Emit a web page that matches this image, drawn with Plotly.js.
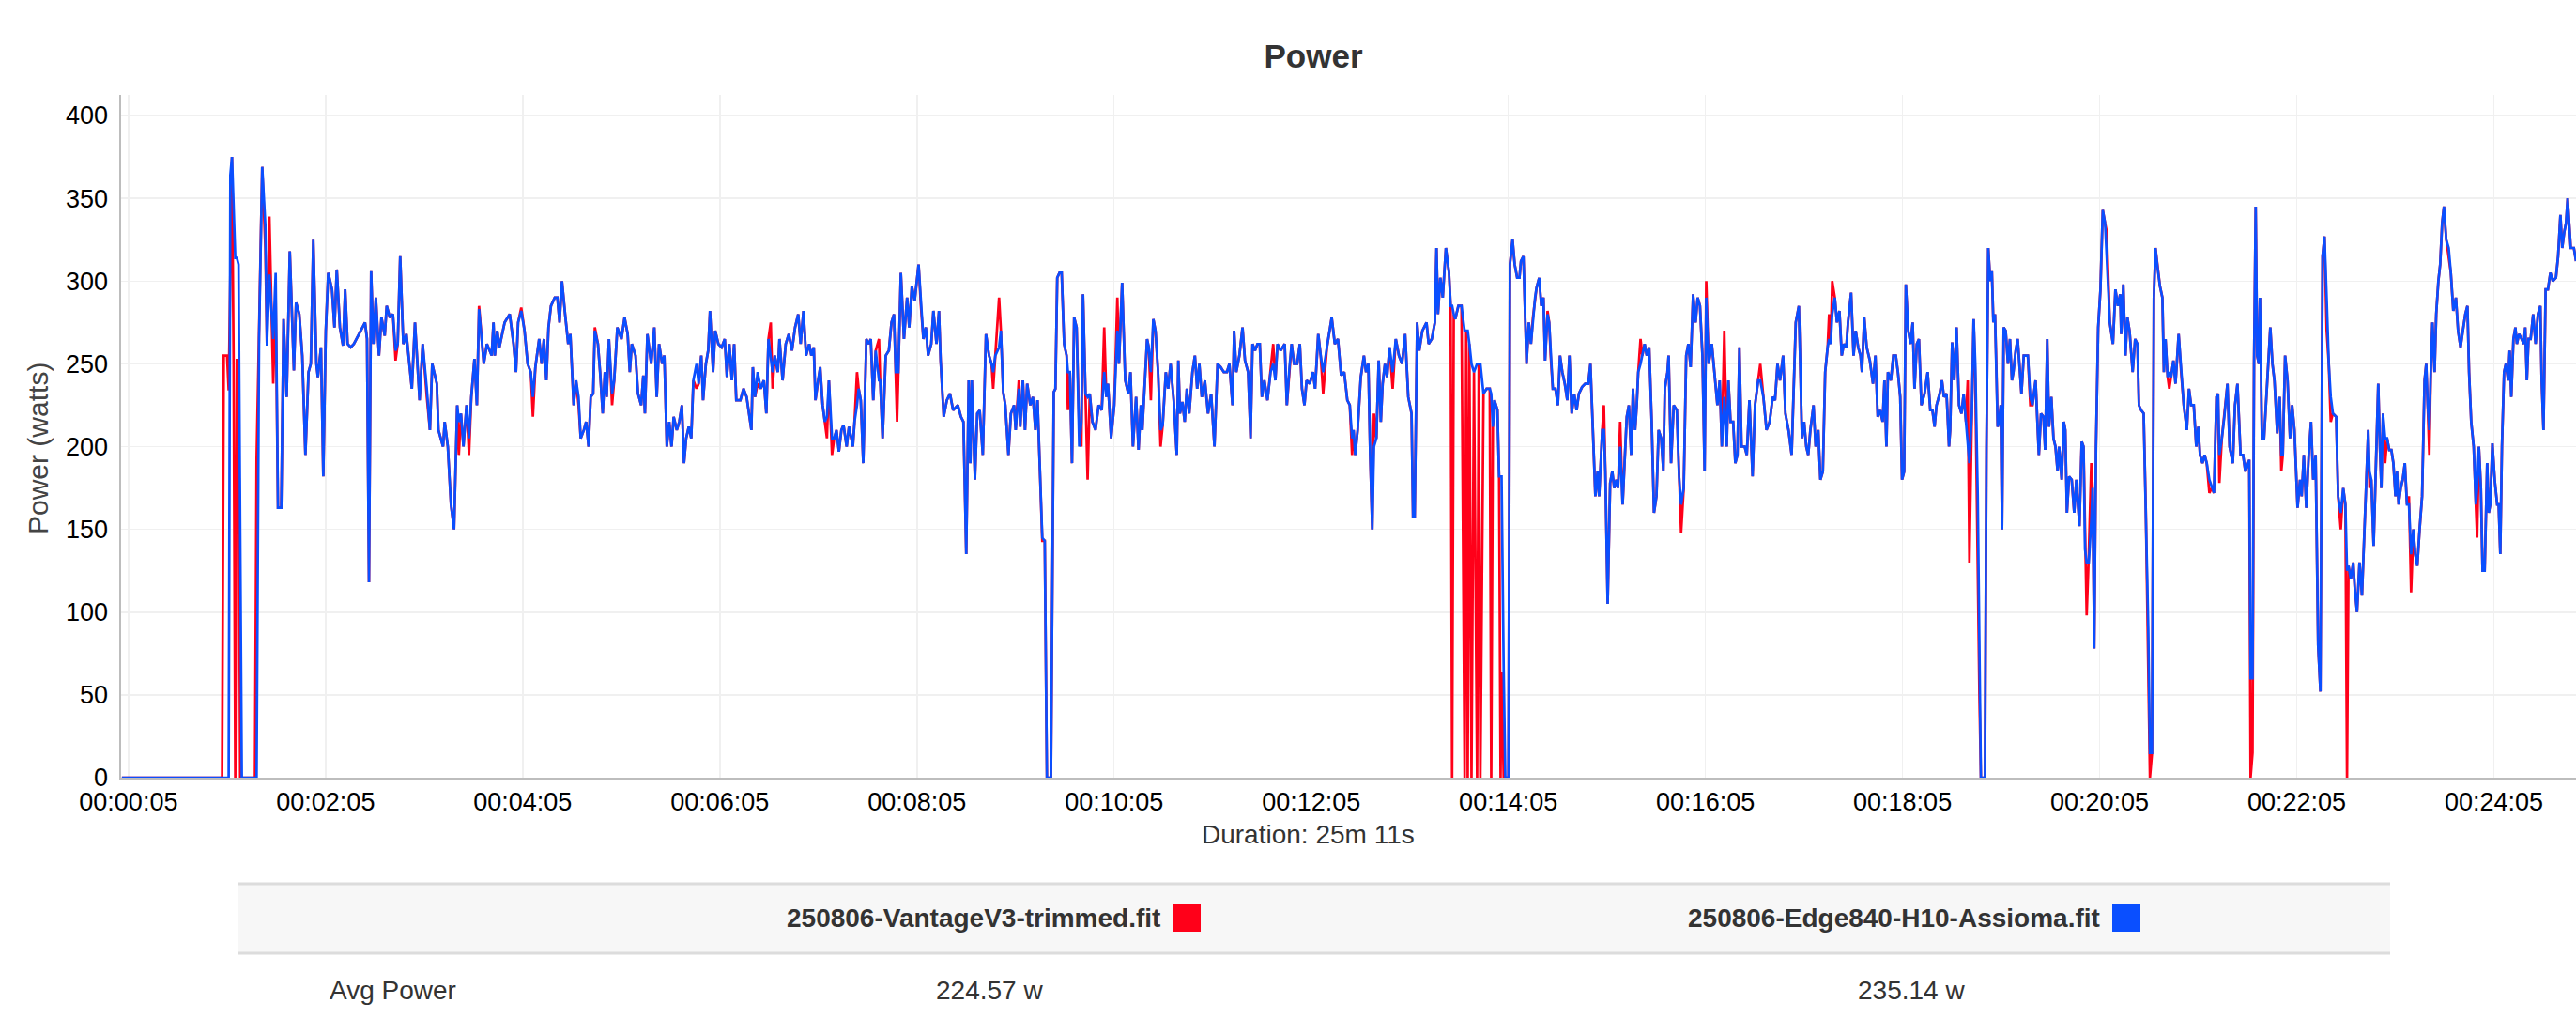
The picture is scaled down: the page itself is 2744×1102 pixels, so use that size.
<!DOCTYPE html>
<html>
<head>
<meta charset="utf-8">
<script src="https://cdn.plot.ly/plotly-3.0.1.min.js"></script>
<style>
  html, body { margin: 0; padding: 0; background: #ffffff; }
  #chart { width: 2744px; height: 1102px; }
</style>
</head>
<body>
<div id="chart"></div>
<script>
// ---------------- DATA ----------------
const chartTitle = "Power";
const yAxisTitle = "Power (watts)";
const xAxisTitle = "Duration: 25m 11s";
const seriesNames = ["250806-VantageV3-trimmed.fit", "250806-Edge840-H10-Assioma.fit"];
const avgPower = ["224.57 w", "235.14 w"];
const rowLabel = "Avg Power";

const tickSeconds = [5, 125, 245, 365, 485, 605, 725, 845, 965, 1085, 1205, 1325, 1445];
const tickLabels = ["00:00:05", "00:02:05", "00:04:05", "00:06:05", "00:08:05", "00:10:05", "00:12:05",
                    "00:14:05", "00:16:05", "00:18:05", "00:20:05", "00:22:05", "00:24:05"];
const yTicks = [0, 50, 100, 150, 200, 250, 300, 350, 400];

// elapsed seconds
const seconds = [
1,62,63,65,66,67,68,69,70,71,72,73,74,82,83,84.5,86.4,88.3,89.3,90.8,93.1,94.6,96,98,99.4,101.3,103.2,105.7,107,109,110.8,112.7,114.6,116,117.5,119.4,120.3,122.2,123.6,125.1,126.6,128.9,130.4,131.8,133.7,135.6,136.9,138.4,140.3,142.2,146.1,149,150.2,151.4,152.7,154.1,155.6,157.5,159,161,162.2,164.1,166,167.6,168.9,170.4,172.3,174.2,177.5,179.4,182.2,184.1,186.6,188.5,
189.9,192.7,193.7,195.2,196.5,197.5,199.4,201.3,203.2,205.1,206.1,207.4,208.9,210.8,212.3,213.7,215.6,217.1,218.4,221.3,223.2,226.1,227.2,228,229.5,230.8,234,237.1,239.4,240.9,242.2,244.1,246.1,248,249.9,251.2,252.7,255,256.5,257.9,259.4,260.7,262.2,264.5,266.1,267.4,268.9,270.8,272.7,274,276,277.5,279,280.3,282.2,283.6,285.1,286.4,287.9,288.9,290.8,292.1,293.7,295,296.1,297.5,299.4,300.7,302.6,305.1,307,308.9,310.2,311.4,313.7,315.2,317.1,318.4,319.4,320.9,323.2,325.1,326.6,328,329.9,331.2,332.7,334.2,335.6,336.9,338.8,340.3,341.9,343.2,344.5,346.1,347.6,348.9,350.8,352.1,353.7,354.8,356.5,357.9,359,360.9,362.2,364.1,366.1,368,369.3,370.8,372.3,373.7,375,377.5,379.4,381.3,382.6,384.2,385.1,386.4,388,389.9,391.8,393.3,394.6,
396,397.1,398.4,400.3,401.3,403.2,405.1,407,408.9,410.8,412.7,414.2,415.9,417.5,419.4,420.7,422.2,423.2,424.5,426.1,427.6,428.9,430.2,431.4,433.3,434.6,436,437.5,439,440.3,442.2,443.6,445.1,446,447,448.5,449.5,450.8,452.3,454.2,455.6,456.9,458.4,459.9,461.9,462.6,464.1,466,467.9,469.5,471,472.1,472.9,473.7,475.2,477.1,479,480.3,481.9,483.6,486,487.4,488.9,490.4,491.8,493.7,495,496.9,498.4,499.4,501.3,503.2,505.1,507,509.9,511.8,513.3,515,516.5,517.5,518.4,520.3,521.7,523.2,525.1,527,528.9,530.4,531.4,532.7,535,536.1,537.5,538.8,540.7,542.2,544.1,545.1,547,547.9,549.5,550.8,552.1,554,555.6,557.1,558.4,561.3,562.8,564.1,566.6,568.3,569.3,570.4,571.8,573.1,574.6,576.1,576.9,578.1,579.4,580.7,582.2,583.8,585.1,586.1,587.6,588.9,
590.2,591.8,593.7,595.6,597.5,599,600.3,601.3,603.2,605.1,607,608,609.9,611.8,613.7,615,616.5,618.4,619.9,621.3,622.2,623.8,625.1,626.1,627.4,628.9,630.2,631.8,633.3,634.6,636.5,637.9,639.4,641.3,643.2,644.1,645.1,646.6,648,649.3,650.8,652.7,654.2,655.6,656.9,658.4,660.3,662.2,664.1,666.1,668,669.9,671.8,673.7,675.2,677.1,678.1,679.4,681.3,683.2,684.7,686.6,688.1,689.3,690.8,692.3,693.7,695,696.5,698.4,700.3,701.9,703.2,704.5,706.4,708.9,710.2,711.8,713.1,714.6,716.5,718.1,719.4,720.9,722.2,724.1,726.1,727.4,729.3,730.8,732.3,734.6,737.5,739.4,741.3,743.2,745.1,747,748.5,749.9,750.8,751.8,753.3,755.2,757.1,758.4,759.8,760.9,762.2,763.2,764.7,766.1,767.4,768.5,769.9,771.2,772.7,774.6,776.5,778.4,780.3,782.2,
784.1,786.1,787,788,789.5,790.8,792.7,795.2,796.5,798.4,800.3,801.3,802.2,803.6,805.1,807,808.9,809.9,810.8,811.8,812.7,814.6,816.5,818.4,819.4,820.3,821.3,822.6,824.1,826,827,828,829.9,831.8,833.7,834.6,835.6,836.6,838.4,839.4,840.3,840.9,842.2,843.2,845.1,846,847.6,848.9,850.4,851.8,852.7,854.2,856.1,857.5,858.8,860,861.3,862.2,863.8,865.1,866.4,867.4,868.9,869.9,870.8,872.1,873.7,875.2,876.5,877.9,879.4,880.9,882.2,883.6,885.1,886.6,888,889.9,891.8,893.7,895,896.5,898,899.4,900.3,902.2,903.2,904.1,905.5,907,908.3,909.5,910.8,911.8,913.1,914.6,916,917.1,918.4,919.8,920.9,922.2,923.2,924.1,925.5,926.6,928,929.3,930.8,932.3,933.7,935.2,936.5,938.1,939.4,940.3,941.9,942.6,944.1,945.7,947.6,948.9,950.2,951.8,953.3,954.6,956,957.5,959,960.3,961.7,963.2,964.5,965.5,967,968.9,970.8,972.3,973.7,975,976.5,978,
979,980.3,981.9,983.2,984.5,985.7,987,988.9,990.2,991.8,993.7,995.2,997.1,998.4,1000.3,1002.2,1004.1,1006,1007.4,1008.9,1010.4,1012.3,1013.7,1015.6,1017.5,1018.4,1020,1021.9,1023.8,1025.1,1026.4,1027.6,1028.9,1030.8,1032.1,1033.7,1035,1036.5,1037.9,1039.4,1040.3,1041.3,1042.2,1043.8,1045.1,1046.6,1048,1049.3,1050.8,1051.8,1053.7,1055.2,1056.5,1058,1059.4,1060.3,1061.7,1063.2,1065.1,1067,1068.5,1069.9,1071.4,1072.9,1074,1075.2,1076.1,1077.9,1079.4,1080.9,1082.2,1083.6,1084.7,1086,1087,1088.5,1089.9,1091.2,1092.3,1093.7,1095,1096.5,1098.4,1100.3,1101.9,1103.2,1104.5,1105.7,1107.6,1109,1110.2,1111.8,1113.3,1114,1115.2,1116.5,1117.9,1119.4,1120.9,1122.2,1123.6,1124.7,1125.7,1127.2,1128.3,1129.3,1130.8,1131.8,1132.7,1135.2,1136.1,1137.2,1138.4,1139.4,1140.3,1141.3,1142.2,1142.9,1143.8,1144.8,1145.6,1146.6,1147.8,1149.2,1150.4,1151.6,1152.5,1153.9,1155.1,1156.2,1157.4,1158.8,1160,
1161.3,1162.8,1164.1,1166,1168,1169.3,1170.8,1171.8,1173.1,1174.2,1175.6,1176.9,1178.1,1179.4,1180.3,1181.9,1183.2,1184.1,1185.1,1186.4,1188,1189.5,1190.8,1192.7,1194.1,1195.2,1196.1,1197.1,1198.4,1199.9,1200.7,1201.7,1202.8,1204.1,1205.5,1206.9,1208.3,1209.3,1211.2,1213.1,1214.6,1216.1,1217.5,1218.1,1219.4,1220.7,1221.9,1223.2,1225.1,1226.6,1228,1228.9,1230.3,1231.8,1233.1,1234.6,1235.6,1236.9,1238,1239,1240.3,1241.7,1243.2,1244.1,1245.1,1246.4,1247.4,1248.5,1249.9,1251.2,1253.1,1254.6,1256.2,1258.1,1259.4,1260.7,1262.3,1263.8,1265.1,1266.1,1267.6,1268.9,1270.2,1271.8,1273.3,1274.6,1276.1,1277.1,1277.9,1279.4,1280.9,1282.8,1284.1,1286.1,1287.4,1288.9,1290.8,1292.3,1293.7,1294.6,1296.1,1296.9,1298.1,1299,1300,1300.9,1301.9,1302.6,1303.8,1305.1,1306.4,1307.6,1308.9,1310.2,1311.4,1313.1,1314.6,1315.6,1316.5,1317.9,1319.4,1320.9,1322.2,1323.6,1325.5,1327,1328,1329.3,1330.8,1332.3,1333.7,1335,1336.5,1338,1339.4,1340.7,1341.9,1343.2,1344.5,1345.7,1347,1349,1350.2,1351.8,1353.3,1354.6,1355.6,1356.5,1357.9,1359.4,1360.3,1361.7,1363.2,1364.7,1366.1,
1368.5,1369.3,1370.4,1371.8,1373.3,1374.6,1375.6,1376.5,1377.5,1378.8,1380,1381.3,1382.6,1383.8,1385.1,1386,1387,1388.3,1389.5,1390.8,1392.1,1393.3,1394.6,1396,1397.1,1398.4,1399.8,1401.3,1402.8,1403.8,1404.7,1405.7,1406.6,1407.6,1408.9,1409.9,1411.2,1412.3,1413.5,1414.6,1416,1417.5,1418.8,1420.3,1421.9,1423.2,1424.7,1426.1,1427.6,1428.9,1429.9,1431.2,1432.7,1434,1434.8,1435.9,1437.1,1438.1,1439.4,1440.9,1441.9,1442.8,1444.1,1445.5,1447,1447.9,1448.9,1449.9,1451.2,1452.3,1453.7,1454.6,1455.6,1456.9,1458.1,1459,1460.3,1461.9,1463.2,1464.1,1465.1,1466.1,1467.4,1468.9,1470.4,1471.8,1473.3,1474.1,1475.2,1476.5,1477.9,1479.4,1480.9,1482.8,1484.1,1485.5,1486.6,1487.9,1488.9,1489.9,1491.8,1493.7,1495
];

// 250806-VantageV3-trimmed.fit (red)
const vantage = [
0,0,255,255,234,300,375,250,0,253,231,0,0,0,193,270,369,320,261,339,238,290,163,163,277,230,318,246,287,280,255,195,245,250,325,250,242,260,182,270,305,295,272,307,272,261,295,262,260,262,270,275,265,118,306,262,290,255,278,267,285,278,280,252,262,315,262,268,235,275,228,262,230,210,
250,238,210,205,200,215,200,165,150,225,195,220,200,225,195,230,253,225,285,250,262,255,275,255,270,260,275,280,262,245,275,284,270,250,245,218,248,265,250,265,240,272,285,290,290,275,300,280,262,268,225,240,225,205,210,215,200,230,232,272,262,245,220,245,230,265,225,240,272,265,278,268,245,262,255,232,225,243,220,268,250,272,230,262,250,255,200,215,200,218,210,215,225,190,205,212,205,240,235,238,255,228,250,258,282,245,270,262,260,265,242,262,240,262,228,228,235,230,222,210,248,230,238,235,240,220,265,
275,235,255,245,265,240,262,268,258,272,280,262,282,255,262,255,260,228,238,248,225,215,205,240,195,205,210,197,210,213,200,212,205,200,215,245,235,228,190,265,262,265,228,258,265,240,205,255,258,275,280,245,215,245,305,265,290,272,297,288,310,285,265,272,255,262,282,262,282,252,218,228,232,222,225,218,215,135,240,190,240,180,220,222,195,268,255,250,235,255,290,270,233,225,195,220,225,210,240,212,240,210,238,225,230,210,228,143,143,0,0,233,235,302,305,305,262,255,222,245,190,278,272,210,200,292,230,180,
232,215,210,225,222,272,230,238,205,225,290,250,299,240,232,245,200,230,198,225,210,240,265,260,228,277,270,245,200,213,245,235,250,228,195,252,220,227,215,235,220,245,255,235,250,230,240,220,232,200,250,248,245,245,250,225,270,245,255,272,252,245,205,262,258,262,262,230,240,228,245,262,240,262,258,262,225,248,262,250,250,262,235,225,240,238,245,235,268,255,232,260,278,262,265,243,245,228,225,195,210,195,210,242,255,245,250,195,150,220,205,252,215,238,250,242,260,235,265,255,250,268,
230,220,158,158,275,258,270,275,262,265,275,320,280,302,290,320,305,285,0,280,277,285,285,0,270,0,262,0,245,0,250,0,232,235,235,0,212,228,222,182,0,64,0,0,0,310,325,310,302,302,312,315,250,275,262,278,290,296,302,285,290,252,282,275,255,235,235,225,255,245,238,228,255,220,232,222,232,236,238,238,250,210,170,185,170,210,225,185,105,178,185,175,180,175,215,165,200,218,225,195,235,210,225,245,265,255,262,255,260,215,160,170,210,205,185,235,245,255,190,225,222,183,148,175,255,262,248,292,275,290,285,255,185,300,250,262,240,225,240,200,270,200,
240,215,215,190,195,260,200,200,195,228,182,225,240,250,230,210,215,230,228,250,240,255,220,210,195,225,275,285,205,215,200,195,210,225,200,210,180,185,245,260,280,262,300,290,275,282,255,262,260,275,293,255,270,260,255,245,278,260,252,238,255,218,222,215,240,200,245,240,255,255,245,230,180,185,298,270,262,275,235,262,265,225,232,245,222,222,212,225,232,240,230,232,200,210,263,240,272,225,220,232,215,240,130,220,277,240,112,50,0,0,200,320,300,306,275,280,245,212,215,225,150,272,270,250,265,240,245,258,265,250,232,255,255,
255,225,225,240,195,220,218,198,265,212,230,205,200,185,200,180,215,210,160,182,180,160,180,152,203,200,140,98,135,190,175,78,200,272,295,343,335,330,275,262,295,285,292,268,298,255,278,270,245,265,262,225,222,220,162,65,0,15,290,320,308,297,290,245,265,242,235,242,252,238,268,245,225,210,235,225,225,200,212,195,190,195,190,172,175,172,230,232,178,205,218,238,200,190,225,238,195,195,185,188,192,0,15,250,345,255,250,290,205,205,228,255,272,250,240,208,230,185,195,255,240,205,225,210,163,180,170,195,163,195,215,180,195,80,52,315,327,270,250,215,220,218,170,150,175,165,0,128,120,130,115,100,130,110,150,
210,175,180,140,200,238,200,175,220,190,205,198,198,190,170,185,165,175,180,190,165,170,112,150,135,128,150,170,240,250,225,195,245,275,245,280,300,310,335,345,325,315,305,282,290,270,260,270,280,285,245,215,200,165,145,200,175,125,125,190,160,165,202,180,165,165,135,200,245,250,240,258,230,265,272,262,268,265,262,272,240,265,265,280,262,280,285,240,210,295,295,305,300,302,315,340,320,330,335,350,320,320,312
];

// 250806-Edge840-H10-Assioma.fit (blue)
const edge = [
0,0,0,0,0,364,375,345,314,314,310,150,0,0,0,266,369,334,261,304,265,305,163,163,277,230,318,246,287,280,255,195,245,250,325,250,242,260,182,270,305,295,272,307,272,261,295,262,260,262,270,275,265,118,306,262,290,255,278,267,285,278,280,258,262,315,262,268,235,275,228,262,235,210,
250,238,210,205,200,215,200,165,150,225,215,220,200,225,205,230,253,225,283,250,262,255,275,255,270,260,275,280,262,245,275,282,270,250,245,230,248,265,250,265,240,272,285,290,290,275,300,280,262,268,225,240,230,205,210,215,200,230,232,270,262,245,220,245,230,265,232,240,272,265,278,268,245,262,255,232,225,243,220,268,250,272,230,262,250,255,200,215,200,218,210,215,225,190,205,212,205,240,250,238,255,228,250,258,282,245,270,262,260,265,242,262,240,262,228,228,235,230,222,210,248,230,245,235,240,220,265,
255,245,255,245,265,240,262,268,258,272,280,262,282,255,262,255,260,228,238,248,225,215,218,240,205,205,210,197,210,213,200,212,205,200,215,225,235,228,190,265,262,265,228,258,240,240,205,255,258,275,280,245,245,245,305,265,290,272,297,288,310,285,265,272,255,262,282,262,282,252,218,228,232,222,225,218,215,135,240,190,240,180,220,222,195,268,255,250,245,255,260,270,233,225,195,220,225,210,235,212,240,210,238,225,230,210,228,145,143,0,0,233,235,302,305,305,262,255,245,245,190,278,272,200,215,292,232,230,
232,215,210,225,222,245,230,238,205,225,270,250,299,240,232,245,200,230,198,225,210,240,265,260,245,277,270,245,210,213,245,235,250,228,195,252,220,227,215,235,220,245,255,235,250,230,240,220,232,200,250,248,245,245,250,225,270,245,255,272,252,245,205,262,258,262,262,230,240,228,245,250,240,262,258,262,225,248,262,250,250,262,235,225,240,238,245,235,268,255,245,260,278,262,265,243,245,228,225,205,210,195,210,242,255,245,250,195,150,200,205,252,215,238,250,242,260,245,265,255,250,268,
230,220,158,158,275,258,270,275,262,265,275,320,280,302,290,320,305,285,285,280,277,285,285,270,270,270,262,250,245,250,250,250,232,235,235,232,212,228,222,182,182,182,65,0,0,310,325,310,302,302,312,315,250,275,262,278,290,296,302,285,290,252,280,275,255,235,235,225,255,245,238,228,255,220,232,222,232,236,238,238,250,210,170,185,170,210,210,185,105,178,185,175,180,175,200,165,200,218,225,195,235,210,225,245,250,255,262,255,260,215,160,170,210,205,185,235,245,255,190,225,222,183,165,175,255,262,248,292,275,290,285,255,185,290,250,262,240,225,240,200,230,200,
240,215,215,190,195,260,200,200,195,228,182,225,240,240,230,210,215,230,228,250,240,255,220,210,195,225,275,285,205,215,200,195,210,225,200,210,180,185,245,260,265,262,280,290,275,282,255,262,260,275,293,255,270,260,255,245,278,260,252,238,255,218,222,215,240,200,245,240,255,255,245,230,180,185,298,270,262,275,235,262,265,225,232,245,222,222,212,225,232,240,230,232,200,210,263,240,272,225,220,232,215,200,190,220,277,250,170,80,0,0,200,320,300,306,275,280,245,212,215,225,150,272,270,250,265,240,245,258,265,250,232,255,255,
255,230,225,240,195,220,218,198,265,212,230,205,200,185,200,180,215,210,160,182,180,160,180,152,203,200,138,130,130,155,175,78,200,272,295,343,335,315,275,262,295,285,292,268,298,255,278,270,245,265,262,225,222,220,162,90,15,15,290,320,308,297,290,245,265,242,245,242,252,238,268,245,225,210,235,225,225,200,212,195,190,195,190,180,175,172,230,232,195,205,218,238,200,190,225,238,195,195,185,188,192,60,60,250,345,255,250,290,205,205,228,255,272,250,240,208,230,195,195,255,240,205,225,210,163,180,170,195,163,195,215,180,195,80,52,315,327,290,250,230,220,218,170,160,175,165,125,128,120,130,115,100,130,110,150,
210,185,180,140,200,238,200,175,220,205,205,198,198,190,170,185,165,175,180,190,165,165,135,150,135,128,150,170,240,250,225,210,245,275,245,280,300,310,335,345,325,320,305,282,290,270,260,270,280,285,245,215,200,165,175,200,175,125,125,190,160,165,202,180,165,165,135,200,245,250,240,258,230,265,272,262,268,265,262,272,240,265,265,280,262,280,285,240,210,295,295,305,300,302,315,340,320,330,335,350,320,320,312
];

// ---------------- STYLE / LAYOUT ----------------
const W = 2744, H = 1102;
const PL = 129, PR = 2744, PT = 101, PB = 828;       // plot area in pixels
const px = x => (x - PL) / (PR - PL);                  // pixel -> paper x
const py = y => (PB - y) / (PB - PT);                  // pixel -> paper y

const FONT = "Liberation Sans, Arial, Helvetica, sans-serif";
const RED = "#ff0019";
const BLUE = "#0a4fff";

const traces = [
  { x: seconds, y: vantage, type: "scatter", mode: "lines", name: seriesNames[0],
    line: { color: RED, width: 2.7 }, hoverinfo: "skip" },
  { x: seconds, y: edge, type: "scatter", mode: "lines", name: seriesNames[1],
    line: { color: BLUE, width: 2.7 }, hoverinfo: "skip" }
];

const shapes = [
  { type: "rect", xref: "paper", yref: "paper", x0: px(254), x1: px(2546), y0: py(941), y1: py(1015),
    fillcolor: "#f7f7f7", line: { width: 0 }, layer: "below" },
  { type: "line", xref: "paper", yref: "paper", x0: px(254), x1: px(2546), y0: py(941), y1: py(941),
    line: { color: "#dcdcdc", width: 3 } },
  { type: "line", xref: "paper", yref: "paper", x0: px(254), x1: px(2546), y0: py(1015), y1: py(1015),
    line: { color: "#dcdcdc", width: 3 } },
  { type: "rect", xref: "paper", yref: "paper", x0: px(1249), x1: px(1279), y0: py(962), y1: py(992),
    fillcolor: RED, line: { width: 0 } },
  { type: "rect", xref: "paper", yref: "paper", x0: px(2250), x1: px(2280), y0: py(962), y1: py(992),
    fillcolor: BLUE, line: { width: 0 } }
];

const annotations = [
  { text: yAxisTitle, xref: "paper", yref: "paper", x: px(40), y: py(478), textangle: -90,
    showarrow: false, xanchor: "center", yanchor: "middle", font: { family: FONT, size: 30, color: "#444" } },
  { text: xAxisTitle, xref: "paper", yref: "paper", x: px(1393), y: py(888),
    showarrow: false, xanchor: "center", yanchor: "middle", font: { family: FONT, size: 28, color: "#333" } },
  { text: "<b>" + seriesNames[0] + "</b>", xref: "paper", yref: "paper", x: px(1238), y: py(977),
    showarrow: false, xanchor: "right", yanchor: "middle", font: { family: FONT, size: 28, color: "#333" } },
  { text: "<b>" + seriesNames[1] + "</b>", xref: "paper", yref: "paper", x: px(2239), y: py(977),
    showarrow: false, xanchor: "right", yanchor: "middle", font: { family: FONT, size: 28, color: "#333" } },
  { text: rowLabel, xref: "paper", yref: "paper", x: px(418), y: py(1054),
    showarrow: false, xanchor: "center", yanchor: "middle", font: { family: FONT, size: 28, color: "#333" } },
  { text: avgPower[0], xref: "paper", yref: "paper", x: px(1054), y: py(1054),
    showarrow: false, xanchor: "center", yanchor: "middle", font: { family: FONT, size: 28, color: "#333" } },
  { text: avgPower[1], xref: "paper", yref: "paper", x: px(2036), y: py(1054),
    showarrow: false, xanchor: "center", yanchor: "middle", font: { family: FONT, size: 28, color: "#333" } }
];

const layout = {
  width: W, height: H,
  margin: { l: PL, r: W - PR, t: PT, b: H - PB, pad: 0 },
  paper_bgcolor: "#ffffff", plot_bgcolor: "#ffffff",
  showlegend: false,
  font: { family: FONT, color: "#000" },
  title: { text: "<b>" + chartTitle + "</b>", font: { family: FONT, size: 35, color: "#333" },
           xref: "container", yref: "container", x: 1399 / W, xanchor: "center", y: 1 - 60 / H, yanchor: "middle" },
  xaxis: {
    range: [0.5, 1495], tickmode: "array", tickvals: tickSeconds, ticktext: tickLabels,
    showgrid: true, gridcolor: "#f0f0f0", gridwidth: 1.5, zeroline: false,
    showline: true, linecolor: "#bdbdbd", linewidth: 3, ticks: "",
    tickfont: { family: FONT, size: 27, color: "#000" }, layer: "below traces", fixedrange: true
  },
  yaxis: {
    range: [0, 412.5], tickmode: "array", tickvals: yTicks,
    showgrid: true, gridcolor: "#f0f0f0", gridwidth: 1.5, zeroline: false,
    showline: true, linecolor: "#bdbdbd", linewidth: 2.5, ticks: "",
    ticklabelstandoff: 6,
    tickfont: { family: FONT, size: 27, color: "#000" }, layer: "below traces", fixedrange: true
  },
  shapes: shapes,
  annotations: annotations
};

Plotly.newPlot("chart", traces, layout, { staticPlot: true, displayModeBar: false });
</script>
</body>
</html>
